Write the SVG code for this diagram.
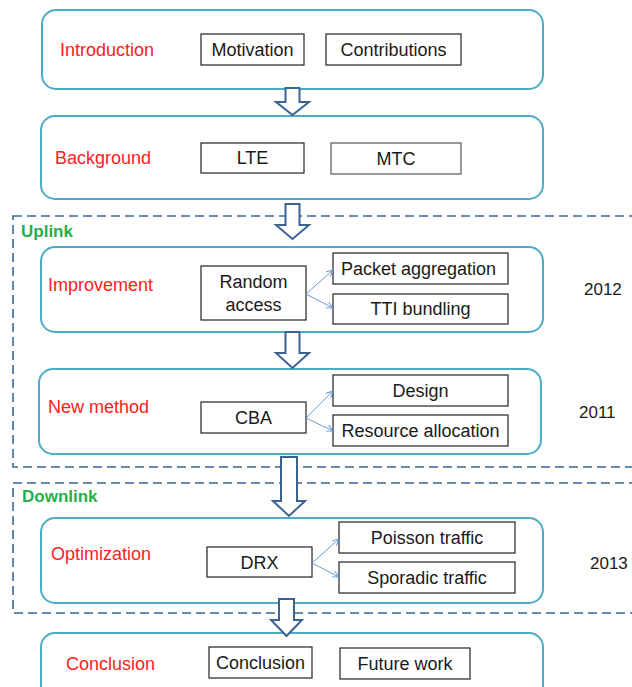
<svg xmlns="http://www.w3.org/2000/svg" width="632" height="687" viewBox="0 0 632 687">
  <style>
    text { font-family: "Liberation Sans", Arial, sans-serif; font-size: 18px; fill: #1a1a1a; }
    .stage { fill: #ffffff; stroke: #4bacc6; stroke-width: 2; }
    .item { fill: #ffffff; stroke: #222222; stroke-width: 1.2; }
    .title { fill: #ff2020; }
    .region { fill: none; stroke: #3d6494; stroke-width: 1.6; stroke-dasharray: 9 5; }
    .region-label { fill: #1fb04a; font-weight: bold; font-size: 17px; }
    .year { font-size: 17px; }
    .flow { fill: #ffffff; stroke: #3a6394; stroke-width: 2; stroke-linejoin: miter; }
    .branch { fill: none; stroke: #5b8fd0; stroke-width: 0.9; marker-end: url(#open-head); }
    .mid { text-anchor: middle; }
  </style>
  <defs>
    <marker id="open-head" viewBox="0 0 10 10" refX="9" refY="5" markerWidth="8" markerHeight="8" markerUnits="userSpaceOnUse" orient="auto">
      <path d="M1,1 L9,5 L1,9" fill="none" stroke="#5b8fd0" stroke-width="1.2"/>
    </marker>
  </defs>

  <rect width="632" height="687" fill="#ffffff"/>

  <!-- dashed regions -->
  <g id="uplink-region">
    <rect class="region" x="13" y="216" width="640" height="251"/>
    <text class="region-label" x="21" y="237">Uplink</text>
  </g>
  <g id="downlink-region">
    <rect class="region" x="13" y="483" width="640" height="130"/>
    <text class="region-label" x="22" y="502">Downlink</text>
  </g>

  <!-- Introduction -->
  <g id="introduction">
    <rect class="stage" x="42" y="10" width="501" height="79" rx="14"/>
    <text class="title" x="60" y="56">Introduction</text>
    <rect class="item" x="201" y="34" width="103" height="31"/>
    <text class="mid" x="252.5" y="56">Motivation</text>
    <rect class="item" x="326" y="34" width="135" height="31"/>
    <text class="mid" x="393.5" y="56">Contributions</text>
  </g>

  <!-- Background -->
  <g id="background">
    <rect class="stage" x="41" y="116" width="502" height="83" rx="14"/>
    <text class="title" x="55" y="164">Background</text>
    <rect class="item" x="201" y="143" width="103" height="30"/>
    <text class="mid" x="252.5" y="164">LTE</text>
    <rect class="item" x="331" y="143" width="130" height="31" style="stroke:#555555"/>
    <text class="mid" x="396" y="165">MTC</text>
  </g>

  <!-- Improvement -->
  <g id="improvement">
    <rect class="stage" x="41" y="247" width="502" height="85" rx="14"/>
    <text class="title" x="48" y="291">Improvement</text>
    <rect class="item" x="201" y="266" width="105" height="54"/>
    <text class="mid" x="253.5" y="288">Random</text>
    <text class="mid" x="253.5" y="311">access</text>
    <rect class="item" x="333" y="253" width="175" height="31"/>
    <text x="341" y="275">Packet aggregation</text>
    <rect class="item" x="333" y="294" width="175" height="30"/>
    <text class="mid" x="420.5" y="315">TTI bundling</text>
    <text class="year" x="584" y="295">2012</text>
  </g>

  <!-- New method -->
  <g id="new-method">
    <rect class="stage" x="39" y="369" width="502" height="85" rx="14"/>
    <text class="title" x="48" y="413">New method</text>
    <rect class="item" x="201" y="402" width="105" height="31"/>
    <text class="mid" x="253.5" y="424">CBA</text>
    <rect class="item" x="333" y="375" width="175" height="31"/>
    <text class="mid" x="420.5" y="397">Design</text>
    <rect class="item" x="333" y="415" width="175" height="31"/>
    <text class="mid" x="420.5" y="437">Resource allocation</text>
    <text class="year" x="579" y="418">2011</text>
  </g>

  <!-- Optimization -->
  <g id="optimization">
    <rect class="stage" x="41" y="518" width="502" height="85" rx="14"/>
    <text class="title" x="51" y="560">Optimization</text>
    <rect class="item" x="207" y="547" width="105" height="30"/>
    <text class="mid" x="259.5" y="569">DRX</text>
    <rect class="item" x="339" y="522" width="176" height="31"/>
    <text class="mid" x="427" y="544">Poisson traffic</text>
    <rect class="item" x="339" y="562" width="176" height="31"/>
    <text class="mid" x="427" y="584">Sporadic traffic</text>
    <text class="year" x="590" y="569">2013</text>
  </g>

  <!-- Conclusion -->
  <g id="conclusion">
    <rect class="stage" x="41" y="633" width="502" height="80" rx="14"/>
    <text class="title" x="66" y="670">Conclusion</text>
    <rect class="item" x="209" y="647" width="103" height="31"/>
    <text class="mid" x="260.5" y="669">Conclusion</text>
    <rect class="item" x="340" y="648" width="130" height="31"/>
    <text class="mid" x="405" y="670">Future work</text>
  </g>

  <!-- connectors -->
  <g id="connectors">
    <polygon class="flow" points="285.5,88 299.5,88 299.5,102 309,102 292.5,115 276,102 285.5,102"/>
    <polygon class="flow" points="285.5,204 299.5,204 299.5,225 309,225 292.5,239 276,225 285.5,225"/>
    <polygon class="flow" points="285.5,332 299.5,332 299.5,353 309,353 292.5,368 276,353 285.5,353"/>
    <polygon class="flow" points="281,457 297,457 297,501 305,501 289,516 273,501 281,501"/>
    <polygon class="flow" points="279,599 294,599 294,620 302,620 286.5,636 271,620 279,620"/>

    <line class="branch" x1="306" y1="294" x2="333" y2="270"/>
    <line class="branch" x1="306" y1="294" x2="333" y2="308"/>
    <line class="branch" x1="306" y1="418" x2="333" y2="391"/>
    <line class="branch" x1="306" y1="418" x2="333" y2="431"/>
    <line class="branch" x1="312" y1="563" x2="339" y2="539"/>
    <line class="branch" x1="312" y1="563" x2="339" y2="577"/>
  </g>
</svg>
